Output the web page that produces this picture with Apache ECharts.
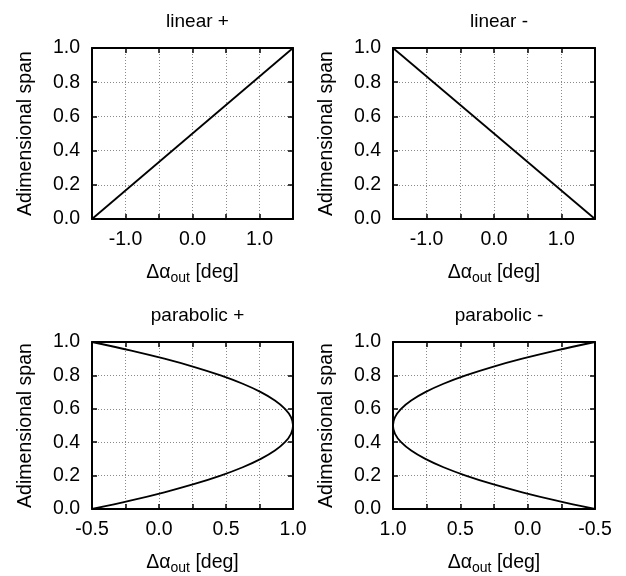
<!DOCTYPE html>
<html>
<head>
<meta charset="utf-8">
<script src="https://cdn.jsdelivr.net/npm/echarts@6/dist/echarts.min.js"></script>
<style>
  html, body { margin: 0; padding: 0; background: #fff; }
  #chart { width: 626px; height: 576px; }
</style>
</head>
<body>
<div id="chart"></div>
<script>
// Spanwise distributions of the outlet angle change.
const panelTitles = ['linear +', 'linear -', 'parabolic +', 'parabolic -'];

// linear distributions: two end points each
const spanLinear = [0.0, 1.0];
const linearPlus = [-1.5, 1.5];
const linearMinus = [1.5, -1.5];

// parabolic distribution sampled along the span
const spanParabolic = [0.00, 0.05, 0.10, 0.15, 0.20, 0.25, 0.30, 0.35, 0.40, 0.45, 0.50,
                       0.55, 0.60, 0.65, 0.70, 0.75, 0.80, 0.85, 0.90, 0.95, 1.00];
const parabolicPlus = [-0.500, -0.215, 0.040, 0.265, 0.460, 0.625, 0.760, 0.865, 0.940, 0.985, 1.000,
                       0.985, 0.940, 0.865, 0.760, 0.625, 0.460, 0.265, 0.040, -0.215, -0.500];
const parabolicMinus = parabolicPlus.slice();

// axis ranges / tick spacing
const xLinear = { min: -1.5, max: 1.5, interval: 0.5, labelStep: 1.0 };
const xParabolic = { min: -0.5, max: 1.0, interval: 0.25, labelStep: 0.5 };
const spanTicks = { min: 0, max: 1, interval: 0.2 };

const FONT = "'Liberation Sans', Arial, Helvetica, sans-serif";
const FS = 19.5;

const grids = [
  { left: 92, top: 48, width: 201, height: 171 },
  { left: 393, top: 48, width: 202, height: 171 },
  { left: 92, top: 342, width: 201, height: 171 },
  { left: 393, top: 342, width: 202, height: 171 }
];
const xCfg = [xLinear, xLinear, xParabolic, xParabolic];
const xInverse = [false, false, false, true];
const series_data = [
  [spanLinear, linearPlus],
  [spanLinear, linearMinus],
  [spanParabolic, parabolicPlus],
  [spanParabolic, parabolicMinus]
];

const lineBlack = { color: '#000', width: 2 };
const tickStyle = { show: true, inside: true, length: 5, lineStyle: { color: '#000', width: 1.5 } };
const gridLine = { show: true, lineStyle: { color: '#8a8a8a', width: 1, type: [1, 2] } };

const title = [], xAxis = [], yAxis = [], series = [];

grids.forEach((g, i) => {
  const c = xCfg[i];
  title.push({
    text: panelTitles[i],
    left: g.left + g.width / 2,
    top: g.top - 41,
    textAlign: 'center',
    textStyle: { fontFamily: FONT, fontSize: 19, fontWeight: 'normal', color: '#000' }
  });
  // bottom x axis
  xAxis.push({
    type: 'value', gridIndex: i, position: 'bottom',
    min: c.min, max: c.max, interval: c.interval, inverse: xInverse[i],
    axisLine: { show: true, onZero: false, lineStyle: lineBlack },
    axisTick: tickStyle,
    splitLine: gridLine,
    axisLabel: {
      show: true, margin: 11, fontFamily: FONT, fontSize: FS, color: '#000',
      showMinLabel: true, showMaxLabel: true,
      formatter: v => {
        const r = v / c.labelStep;
        return Math.abs(r - Math.round(r)) < 1e-6 ? v.toFixed(1) : '';
      }
    },
    name: '{a|Δα}{s|out}{a| [deg]}',
    nameLocation: 'middle',
    nameGap: 42,
    nameTextStyle: {
      rich: {
        a: { fontFamily: FONT, fontSize: FS, color: '#000' },
        s: { fontFamily: FONT, fontSize: 14, color: '#000', padding: [10, 0, 0, 0] }
      }
    }
  });
  // mirror x axis on top
  xAxis.push({
    type: 'value', gridIndex: i, position: 'top',
    min: c.min, max: c.max, interval: c.interval, inverse: xInverse[i],
    axisLine: { show: true, onZero: false, lineStyle: lineBlack },
    axisTick: tickStyle,
    splitLine: { show: false },
    axisLabel: { show: false }
  });
  // left y axis
  yAxis.push({
    type: 'value', gridIndex: i, position: 'left',
    min: spanTicks.min, max: spanTicks.max, interval: spanTicks.interval,
    axisLine: { show: true, onZero: false, lineStyle: lineBlack },
    axisTick: tickStyle,
    splitLine: gridLine,
    axisLabel: {
      show: true, margin: 12, fontFamily: FONT, fontSize: FS, color: '#000',
      formatter: v => v.toFixed(1)
    },
    name: 'Adimensional span',
    nameLocation: 'middle',
    nameGap: 56,
    nameTextStyle: { fontFamily: FONT, fontSize: FS, color: '#000' }
  });
  // mirror y axis on the right
  yAxis.push({
    type: 'value', gridIndex: i, position: 'right',
    min: spanTicks.min, max: spanTicks.max, interval: spanTicks.interval,
    axisLine: { show: true, onZero: false, lineStyle: lineBlack },
    axisTick: tickStyle,
    splitLine: { show: false },
    axisLabel: { show: false }
  });

  const [span, dx] = series_data[i];
  series.push({
    type: 'line',
    xAxisIndex: 2 * i,
    yAxisIndex: 2 * i,
    data: span.map((s, k) => [dx[k], s]),
    smooth: i >= 2 ? 0.35 : false,
    showSymbol: false,
    lineStyle: { color: '#000', width: 1.8 },
    animation: false
  });
});

const chart = echarts.init(document.getElementById('chart'), null, { renderer: 'canvas' });
chart.setOption({
  animation: false,
  backgroundColor: '#fff',
  textStyle: { fontFamily: FONT },
  title, grid: grids, xAxis, yAxis, series
});
</script>
</body>
</html>
